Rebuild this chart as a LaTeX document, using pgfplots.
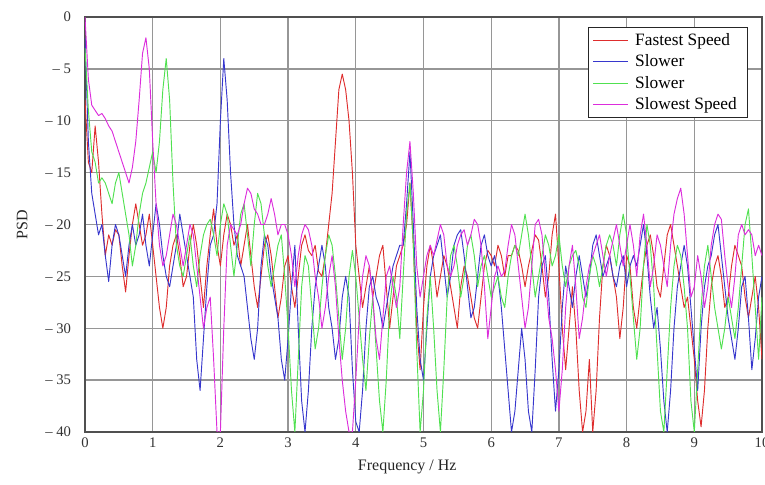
\documentclass[border=0pt]{standalone}
\usepackage{fontspec}
\setmainfont{Liberation Serif}
\usepackage{pgfplots}
\usepackage{pgfplotstable}
\pgfplotsset{compat=1.18}

\definecolor{cRed}{RGB}{222,45,45}
\definecolor{cBlue}{RGB}{55,55,205}
\definecolor{cGreen}{RGB}{80,225,80}
\definecolor{cMag}{RGB}{220,45,220}
\definecolor{cGrid}{RGB}{150,150,150}
\definecolor{cFrame}{RGB}{80,80,80}

% x, Fastest Speed, Slower, Slower, Slowest Speed
\pgfplotstableread{
x r b g m
0.00 -8 -2 -3 0
0.05 -14 -12 -9 -6
0.10 -15 -17 -13 -8.5
0.15 -10.5 -19 -14 -9
0.20 -14 -21 -16 -9.5
0.25 -19 -20 -15.5 -9.3
0.30 -23 -23 -16 -9.8
0.35 -21 -25.5 -17 -10.5
0.40 -22 -22 -18 -11
0.45 -20.5 -20 -16 -12
0.50 -21 -21 -15 -13
0.55 -24 -23 -17 -14
0.60 -26.5 -25 -19 -15
0.65 -23 -22 -21 -16
0.70 -20 -20 -24 -14.5
0.75 -18 -22 -22 -12
0.80 -20 -21 -19 -8
0.85 -22 -19 -17 -3.5
0.90 -21 -22 -16 -2
0.95 -19 -24 -14.5 -5
1.00 -22 -21 -13 -12
1.05 -25 -18 -15 -18
1.10 -28 -20 -12 -22
1.15 -30 -23 -7 -24
1.20 -28 -25 -4 -23
1.25 -24 -26 -8 -21
1.30 -22 -24 -16 -19
1.35 -21 -22 -22 -20
1.40 -23 -19 -24 -22
1.45 -26 -21 -25 -24
1.50 -25 -23 -23 -22
1.55 -22 -25 -21 -20
1.60 -20 -27 -24 -21
1.65 -22 -33 -26 -24
1.70 -25 -36 -23 -27
1.75 -28 -31 -21 -30
1.80 -24 -26 -20 -28
1.85 -21 -22 -19.5 -27
1.90 -18.5 -21 -21 -33
1.95 -22 -18 -23 -40
2.00 -24 -10 -20 -40
2.05 -21 -4 -18 -30
2.10 -19 -8 -19 -22
2.15 -20 -15 -22 -20
2.20 -22 -20 -25 -20.5
2.25 -21 -23 -22 -21
2.30 -24 -24 -19 -20
2.35 -22 -25 -18 -18
2.40 -20 -28 -21 -16.5
2.45 -23 -31 -24 -17
2.50 -26 -33 -20 -18.5
2.55 -28 -30 -17 -19
2.60 -25 -24 -18 -20
2.65 -22 -21 -21 -20
2.70 -21 -22 -24 -19
2.75 -23 -25 -26 -17.5
2.80 -26 -27 -24 -19
2.85 -29 -29 -22 -21
2.90 -27 -33 -21 -20
2.95 -24 -35 -25 -20
3.00 -23 -31 -30 -21
3.05 -26 -26 -36 -23
3.10 -28 -22 -40 -26
3.15 -25 -30 -33 -23
3.20 -22 -37 -26 -21
3.25 -21 -40 -23 -20
3.30 -22.5 -36 -24 -20.5
3.35 -23 -30 -28 -22
3.40 -22 -26 -32 -25
3.45 -24.5 -24 -30 -27
3.50 -25 -22 -26 -30
3.55 -23 -24 -23 -28
3.60 -20 -28 -21 -25
3.65 -17 -30 -22 -23
3.70 -12 -33 -25 -26
3.75 -7 -31 -29 -31
3.80 -5.5 -27 -33 -35
3.85 -7 -25 -30 -38
3.90 -10 -27 -25 -40
3.95 -15 -34 -22.5 -40
4.00 -22 -39 -25 -35
4.05 -25 -40 -29 -29
4.10 -28 -36 -33 -25
4.15 -26 -30 -36 -23
4.20 -24 -26 -31 -24
4.25 -27 -25 -27 -27
4.30 -25 -27 -32 -31
4.35 -23 -28 -37 -33
4.40 -22 -30 -40 -29
4.45 -26 -28 -35 -25
4.50 -30 -26 -28 -24
4.55 -27 -24 -25 -26
4.60 -24 -23 -27 -28
4.65 -23 -22 -31 -26
4.70 -22 -22 -25 -20
4.75 -20 -18 -19 -15
4.80 -16 -13 -16 -12
4.85 -22 -20 -22 -17
4.90 -30 -28 -32 -24
4.95 -34 -33 -40 -27
5.00 -28 -35 -36 -25
5.05 -24 -30 -29 -23
5.10 -22 -25 -25 -22
5.15 -24 -23 -30 -23
5.20 -27 -22 -36 -21.5
5.25 -25 -21 -40 -20
5.30 -23 -24 -34 -21
5.35 -24 -27 -27 -24
5.40 -26 -25 -23 -25
5.45 -28 -22 -22 -24
5.50 -30 -21 -24 -22
5.55 -26 -20.5 -27 -21
5.60 -24 -23 -25 -20.5
5.65 -25 -26 -22 -22
5.70 -27 -29 -21 -21
5.75 -29 -28 -23 -19.5
5.80 -30 -25 -26 -20
5.85 -27 -22 -24 -22
5.90 -24 -21 -23 -26
5.95 -22.5 -23 -25 -31
6.00 -23 -24 -27 -28
6.05 -24 -23 -26 -25
6.10 -22 -25 -25 -24
6.15 -23 -28 -27 -25
6.20 -25 -32 -28 -24.5
6.25 -23 -36 -25 -22
6.30 -23 -40 -23 -20
6.35 -22 -38 -22 -21
6.40 -22.5 -34 -23 -24
6.45 -24 -30 -21 -27
6.50 -26 -33 -19 -30
6.55 -24 -38 -21 -28
6.60 -22.5 -40 -24 -24
6.65 -21 -34 -27 -20
6.70 -21.5 -27 -25 -19.5
6.75 -24 -24 -23 -21
6.80 -27 -23 -21 -25
6.85 -25 -27 -22 -29
6.90 -21 -33 -24 -31
6.95 -19 -38 -23 -34
7.00 -24 -34 -21 -38
7.05 -30 -28 -24 -34
7.10 -34 -24 -26 -28
7.15 -30 -26 -24 -24
7.20 -26 -28 -23 -22
7.25 -30 -25 -22.5 -26
7.30 -36 -23 -24 -31
7.35 -40 -25 -27 -29
7.40 -38 -27 -28 -26
7.45 -33 -25 -25 -24
7.50 -40 -22 -23 -23
7.55 -36 -21 -24 -22
7.60 -29 -23 -26 -21
7.65 -24 -25 -24 -23
7.70 -22 -24 -22 -25
7.75 -23 -23 -21 -23
7.80 -25 -25 -22 -21.5
7.85 -27 -26 -24 -20
7.90 -31 -24 -21 -22
7.95 -28 -23 -19 -24
8.00 -23 -26 -21 -22
8.05 -24 -24 -25 -20
8.10 -28 -23 -29 -22
8.15 -30 -24 -33 -25
8.20 -27 -22 -30 -21
8.25 -24 -20 -24 -19
8.30 -22 -23 -20 -22
8.35 -21 -27 -22 -26
8.40 -23 -30 -26 -24
8.45 -26 -28 -32 -21
8.50 -27 -32 -38 -22
8.55 -24 -37 -40 -24
8.60 -21 -40 -34 -26
8.65 -20 -36 -28 -22
8.70 -22 -30 -24 -19
8.75 -24 -26 -22 -17.5
8.80 -26 -24 -23 -16.5
8.85 -28 -22 -26 -19
8.90 -27 -24 -30 -23
8.95 -30 -28 -37 -27
9.00 -33 -32 -40 -26
9.05 -37 -36 -34 -23
9.10 -39.5 -30 -28 -25
9.15 -36 -26 -24 -28
9.20 -30 -24 -22 -26
9.25 -26 -23 -25 -22
9.30 -24 -21 -28 -20
9.35 -23 -20 -30 -19
9.40 -25 -23 -32 -19.5
9.45 -28 -26 -30 -23
9.50 -27 -29 -27 -26
9.55 -24 -31 -29 -28
9.60 -22 -33 -31 -25
9.65 -23 -30 -28 -21
9.70 -24 -26 -24 -20
9.75 -27 -25 -20 -21
9.80 -29 -29 -18.5 -20.5
9.85 -27 -34 -23 -21
9.90 -25 -31 -28 -23
9.95 -28 -27 -33 -22
10.00 -33 -25 -27 -23
}\psd

\begin{document}
\begin{tikzpicture}
\begin{axis}[
    scale only axis,
    width=507.75pt, height=311.25pt,
    xmin=0, xmax=10, ymin=-40, ymax=0,
    xtick={0,1,2,3,4,5,6,7,8,9,10},
    xticklabels={0,1,2,3,4,5,6,7,8,9,10},
    ytick={-40,-35,-30,-25,-20,-15,-10,-5,0},
    yticklabels={-- 40,-- 35,-- 30,-- 25,-- 20,-- 15,-- 10,-- 5,0},
    major tick length=0pt,
    grid=major,
    grid style={cGrid, line width=1pt},
    axis line style={cFrame, line width=1.2pt},
    tick label style={font=\fontsize{11}{13}\selectfont, text=black!80},
    yticklabel style={xshift=-7pt},
    xticklabel style={yshift=-1pt},
    xlabel={Frequency / Hz},
    ylabel={PSD},
    label style={font=\fontsize{12}{14}\selectfont, text=black!85},
    xlabel style={at={(axis description cs:0.476,0)}, anchor=center, yshift=-26.5pt},
    ylabel style={at={(axis description cs:-0.093,0.5)}, anchor=center},
    legend cell align=left,
    legend style={at={(1,1)}, anchor=north east, xshift=-10.5pt, yshift=-7.5pt,
        draw=black!85, line width=0.8pt, fill=white,
        font=\fontsize{13}{15}\selectfont, row sep=1.5pt,
        inner xsep=3pt, inner ysep=2.5pt,
        nodes={inner xsep=5pt}},
    legend image code/.code={\draw[#1, line width=0.8pt] (0pt,0pt) -- (26pt,0pt);},
    every axis plot/.append style={line width=0.7pt, line join=round},
]
\addplot[draw=cRed] table[x=x, y=r] {\psd};
\addlegendentry{Fastest Speed}
\addplot[draw=cBlue] table[x=x, y=b] {\psd};
\addlegendentry{Slower}
\addplot[draw=cGreen] table[x=x, y=g] {\psd};
\addlegendentry{Slower}
\addplot[draw=cMag] table[x=x, y=m] {\psd};
\addlegendentry{Slowest Speed}
\end{axis}
\pgfresetboundingbox
\path[use as bounding box] ([xshift=-63.75pt,yshift=-39.75pt]current axis.south west)
    rectangle ([xshift=2.25pt,yshift=12.75pt]current axis.north east);
\end{tikzpicture}
\end{document}
